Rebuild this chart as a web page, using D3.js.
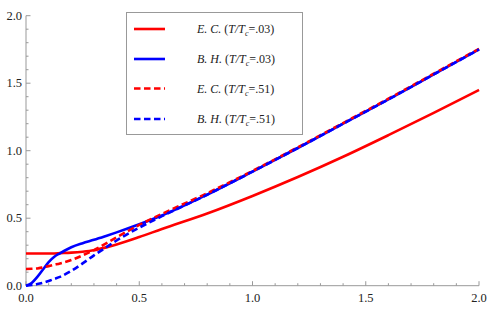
<!DOCTYPE html>
<html>
<head>
<meta charset="utf-8">
<script src="https://cdn.jsdelivr.net/npm/d3@7"></script>
<style>
    body { margin: 0; background: #fff; }
</style>
</head>
<body>
<div id="chart"></div>
<script>
// x positions of sampled points
const xLow = [0, 0.025, 0.05, 0.075, 0.1, 0.125, 0.15, 0.2, 0.25, 0.3, 0.35, 0.4, 0.5, 0.6, 0.8, 1.0, 1.2, 1.4, 1.6, 1.8, 2.0];

// E. C. (T/Tc = .03) - red solid
const ecLow = [0.238, 0.238, 0.238, 0.238, 0.238, 0.239, 0.241, 0.245, 0.252, 0.263, 0.282, 0.305, 0.36, 0.42, 0.535, 0.665, 0.805, 0.955, 1.115, 1.28, 1.45];
// B. H. (T/Tc = .03) - blue solid
const bhLow = [0, 0.02, 0.065, 0.12, 0.175, 0.215, 0.24, 0.285, 0.315, 0.34, 0.367, 0.395, 0.455, 0.52, 0.675, 0.845, 1.02, 1.2, 1.38, 1.565, 1.75];
// E. C. (T/Tc = .51) - red dashed
const ecHigh = [0.124, 0.125, 0.128, 0.136, 0.145, 0.155, 0.165, 0.19, 0.225, 0.264, 0.31, 0.358, 0.45, 0.532, 0.685, 0.85, 1.025, 1.205, 1.385, 1.57, 1.755];
// B. H. (T/Tc = .51) - blue dashed
const bhHigh = [0, 0.005, 0.012, 0.022, 0.035, 0.05, 0.065, 0.11, 0.165, 0.225, 0.28, 0.335, 0.43, 0.515, 0.674, 0.845, 1.02, 1.2, 1.38, 1.565, 1.75];

const legendLabels = [
    {who: "E. C.", t: ".03"},
    {who: "B. H.", t: ".03"},
    {who: "E. C.", t: ".51"},
    {who: "B. H.", t: ".51"}
];
const seriesColors = ["#ff0000", "#0000ff", "#ff0000", "#0000ff"];
const seriesDashed = [false, false, true, true];

const xMajor = [0, 0.5, 1.0, 1.5, 2.0];
const yMajor = [0, 0.5, 1.0, 1.5, 2.0];

const serif = "Liberation Serif";

function main() {
    const width = 500, height = 311;
    const svg = d3.select("#chart")
        .append("svg")
        .attr("width", width)
        .attr("height", height);

    const xScale = d3.scaleLinear().domain([0, 2]).range([26, 479]);
    const yScale = d3.scaleLinear().domain([0, 2]).range([285.7, 15.7]);

    const axisColor = "#999";

    // minor ticks every 0.1
    const minor = d3.range(0, 2.0001, 0.1).map(v => +v.toFixed(1));

    // x axis
    const gx = svg.append("g");
    gx.append("line")
        .attr("x1", xScale(0)).attr("x2", xScale(2))
        .attr("y1", yScale(0)).attr("y2", yScale(0))
        .attr("stroke", axisColor);
    gx.selectAll(".xt").data(minor).enter().append("line")
        .attr("x1", d => xScale(d)).attr("x2", d => xScale(d))
        .attr("y1", yScale(0))
        .attr("y2", d => yScale(0) - (xMajor.includes(d) ? 4.5 : 2.5))
        .attr("stroke", axisColor);
    gx.selectAll(".xl").data(xMajor).enter().append("text")
        .attr("x", d => xScale(d))
        .attr("y", yScale(0) + 16)
        .attr("text-anchor", "middle")
        .style("font-family", serif)
        .style("font-size", "12.5px")
        .attr("fill", "#222")
        .text(d => d3.format(".1f")(d));

    // y axis
    const gy = svg.append("g");
    gy.append("line")
        .attr("x1", xScale(0)).attr("x2", xScale(0))
        .attr("y1", yScale(0)).attr("y2", yScale(2))
        .attr("stroke", axisColor);
    gy.selectAll(".yt").data(minor).enter().append("line")
        .attr("y1", d => yScale(d)).attr("y2", d => yScale(d))
        .attr("x1", xScale(0))
        .attr("x2", d => xScale(0) + (yMajor.includes(d) ? 4.5 : 2.5))
        .attr("stroke", axisColor);
    gy.selectAll(".yl").data(yMajor).enter().append("text")
        .attr("x", xScale(0) - 4)
        .attr("y", d => yScale(d) + 4)
        .attr("text-anchor", "end")
        .style("font-family", serif)
        .style("font-size", "12.5px")
        .attr("fill", "#222")
        .text(d => d3.format(".1f")(d));

    // curves
    const allSeries = [ecLow, bhLow, ecHigh, bhHigh];
    const line = d3.line()
        .x(d => xScale(d[0]))
        .y(d => yScale(d[1]))
        .curve(d3.curveMonotoneX);

    allSeries.forEach(function(vals, i) {
        svg.append("path")
            .datum(xLow.map((x, j) => [x, vals[j]]))
            .attr("d", line)
            .attr("fill", "none")
            .attr("stroke", seriesColors[i])
            .attr("stroke-width", 2.6)
            .attr("stroke-dasharray", seriesDashed[i] ? "6.5,3.5" : null);
    });

    // legend
    const lg = svg.append("g");
    lg.append("rect")
        .attr("x", 126.5).attr("y", 12.5)
        .attr("width", 176).attr("height", 122)
        .attr("fill", "#fff")
        .attr("stroke", axisColor);

    const rowY = [29, 59, 88.5, 119];
    legendLabels.forEach(function(lab, i) {
        lg.append("line")
            .attr("x1", 134).attr("x2", 165)
            .attr("y1", rowY[i]).attr("y2", rowY[i])
            .attr("stroke", seriesColors[i])
            .attr("stroke-width", 2.6)
            .attr("stroke-dasharray", seriesDashed[i] ? "6.5,3.5" : null);
        const t = lg.append("text")
            .attr("x", 197)
            .attr("y", rowY[i] + 4)
            .style("font-family", serif)
            .style("font-size", "12px")
            .attr("fill", "#222");
        t.append("tspan").style("font-style", "italic").text(lab.who + " ");
        t.append("tspan").text("(");
        t.append("tspan").style("font-style", "italic").text("T/T");
        t.append("tspan").style("font-style", "italic").style("font-size", "8px").attr("dy", 3).text("c");
        t.append("tspan").attr("dy", -3).text("=" + lab.t + ")");
    });
}

main();
</script>
</body>
</html>
